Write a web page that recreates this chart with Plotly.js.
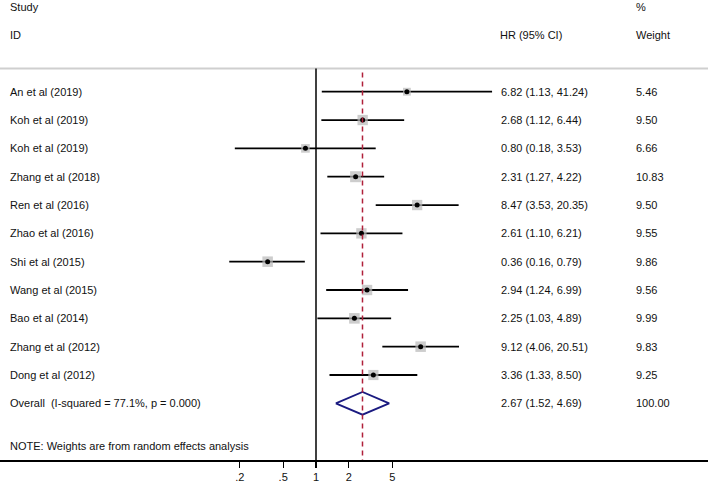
<!DOCTYPE html>
<html>
<head>
<meta charset="utf-8">
<script src="https://cdn.plot.ly/plotly-3.0.1.min.js"></script>
<style>html,body{margin:0;padding:0;background:#fff;}#chart{width:708px;height:484px;}</style>
</head>
<body>
<div id="chart"></div>
<script>
const studies = ["An et al (2019)","Koh et al (2019)","Koh et al (2019)","Zhang et al (2018)","Ren et al (2016)","Zhao et al (2016)","Shi et al (2015)","Wang et al (2015)","Bao et al (2014)","Zhang et al (2012)","Dong et al (2012)"];
const hr = [6.82, 2.68, 0.80, 2.31, 8.47, 2.61, 0.36, 2.94, 2.25, 9.12, 3.36];
const lo = [1.13, 1.12, 0.18, 1.27, 3.53, 1.10, 0.16, 1.24, 1.03, 4.06, 1.33];
const hi = [41.24, 6.44, 3.53, 4.22, 20.35, 6.21, 0.79, 6.99, 4.89, 20.51, 8.50];
const weights = [5.46, 9.50, 6.66, 10.83, 9.50, 9.55, 9.86, 9.56, 9.99, 9.83, 9.25];
const overallLabel = "Overall  (I-squared = 77.1%, p = 0.000)";
const overall = {hr: 2.67, lo: 1.52, hi: 4.69, weight: 100.00};
const tickVals = [0.2, 0.5, 1, 2, 5];
const tickText = [".2", ".5", "1", "2", "5"];
const noteText = "NOTE: Weights are from random effects analysis";

const FONT = "Liberation Sans, Arial, sans-serif";
const FS = 11;
const rows = studies.map((_, i) => i);
const overallRow = studies.length;
const noteRow = overallRow + 1.5;

// CI lines
const ciX = [], ciY = [];
rows.forEach(i => { ciX.push(lo[i], hi[i], null); ciY.push(i, i, null); });

const diamondH = 0.4;
const traces = [
  {x: ciX, y: ciY, mode: "lines", line: {color: "#000", width: 1.8}, hoverinfo: "skip", type: "scatter"},
  {x: hr, y: rows, mode: "markers", type: "scatter",
   marker: {symbol: "square", size: weights.map(w => 3.35 * Math.sqrt(w)), color: "#b8b8b8", line: {width: 0}}},
  {x: hr, y: rows, mode: "markers", type: "scatter",
   marker: {symbol: "circle", size: 5, color: "#000"}},
  {x: [overall.lo, overall.hr, overall.hi, overall.hr, overall.lo],
   y: [overallRow, overallRow - diamondH, overallRow, overallRow + diamondH, overallRow],
   mode: "lines", type: "scatter", line: {color: "#1a1a80", width: 1.8}}
];

const px = v => v / 708;
const annotations = [];
function txt(x, y, text) {
  annotations.push({xref: "paper", yref: "y", x: px(x - 2), y: y, text: text, showarrow: false,
    xanchor: "left", yanchor: "middle", font: {family: FONT, size: FS, color: "#111"}});
}
// headers
txt(10, -2.99, "Study"); txt(636, -2.99, "%");
txt(10, -1.99, "ID"); txt(500, -1.99, "HR (95% CI)"); txt(636, -1.99, "Weight");
rows.forEach(i => {
  txt(10, i, studies[i]);
  txt(501, i, hr[i].toFixed(2) + " (" + lo[i].toFixed(2) + ", " + hi[i].toFixed(2) + ")");
  txt(636, i, weights[i].toFixed(2));
});
txt(10, overallRow, overallLabel);
txt(501, overallRow, overall.hr.toFixed(2) + " (" + overall.lo.toFixed(2) + ", " + overall.hi.toFixed(2) + ")");
txt(636, overallRow, overall.weight.toFixed(2));
txt(10, noteRow, noteText);

const yTop = -3.237, yBot = 13.0;
const lineRow = -0.82;
const shapes = [
  {type: "line", xref: "paper", yref: "y", x0: 0, x1: 1, y0: lineRow, y1: lineRow, line: {color: "#cfcfcf", width: 2}},
  {type: "line", xref: "x", yref: "y", x0: 1, x1: 1, y0: lineRow, y1: yBot, line: {color: "#000", width: 1.5}},
  {type: "line", xref: "x", yref: "y", x0: overall.hr, x1: overall.hr, y0: -0.68, y1: yBot, line: {color: "#b0203a", width: 1.5, dash: "5px,4px"}}
];

const layout = {
  width: 708, height: 484,
  margin: {l: 0, r: 0, t: 0, b: 24, pad: 0},
  paper_bgcolor: "#fff", plot_bgcolor: "#fff",
  showlegend: false,
  xaxis: {type: "log", range: [-316/109, 392/109], tickvals: tickVals, ticktext: tickText,
    ticks: "outside", ticklen: 6, tickwidth: 1.3, tickcolor: "#000",
    showline: true, linecolor: "#000", linewidth: 1.5, showgrid: false, zeroline: false,
    tickfont: {family: FONT, size: FS, color: "#111"}, fixedrange: true},
  yaxis: {range: [yBot, yTop], visible: false, showgrid: false, zeroline: false, fixedrange: true},
  annotations: annotations,
  shapes: shapes
};
Plotly.newPlot("chart", traces, layout, {displayModeBar: false, staticPlot: true});
</script>
</body>
</html>
